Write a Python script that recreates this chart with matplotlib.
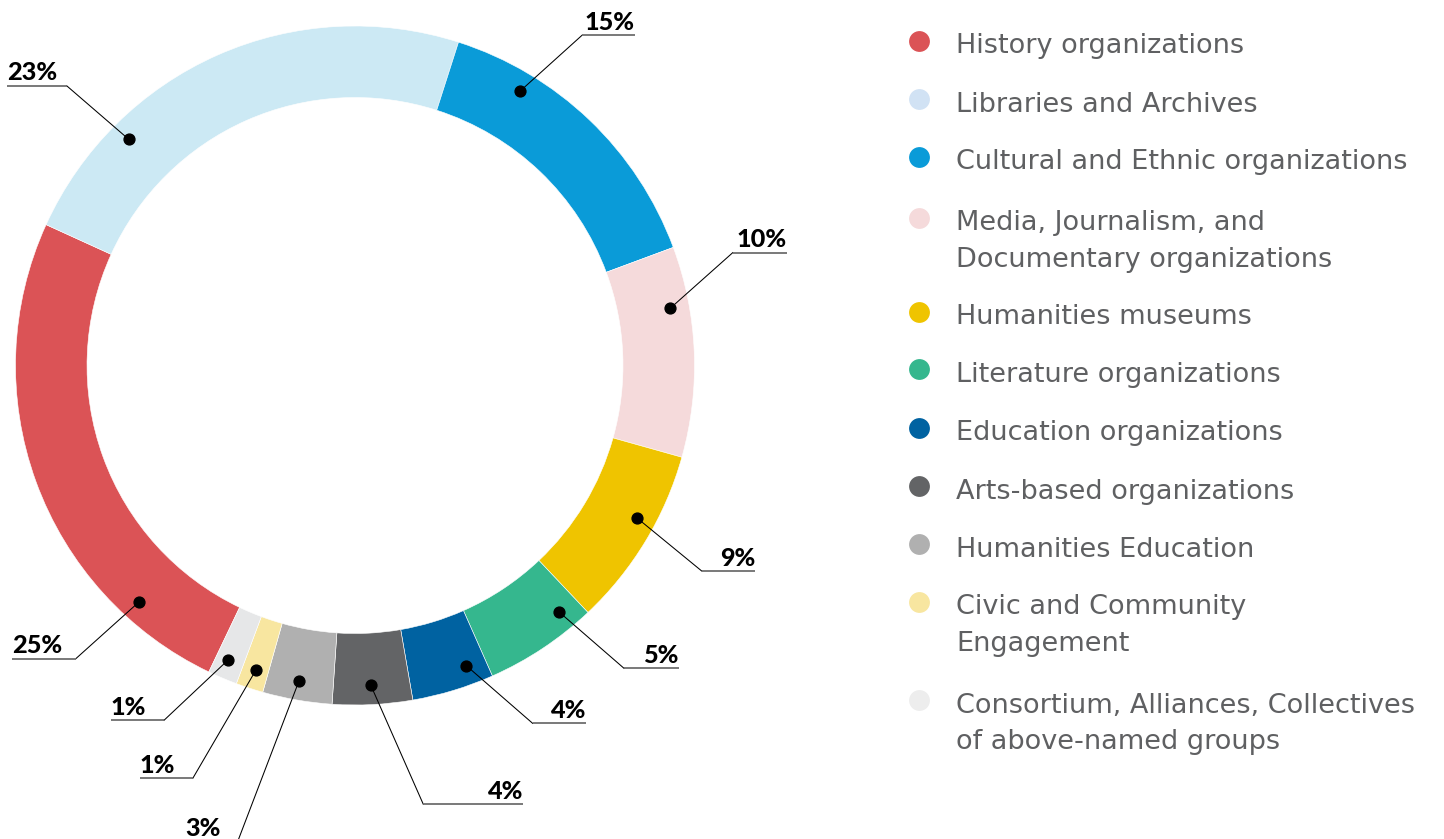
import matplotlib
matplotlib.use("Agg")
import matplotlib.pyplot as plt
import numpy as np

# ---------------- data ----------------
categories = [
    "History organizations",
    "Libraries and Archives",
    "Cultural and Ethnic organizations",
    "Media, Journalism, and\nDocumentary organizations",
    "Humanities museums",
    "Literature organizations",
    "Education organizations",
    "Arts-based organizations",
    "Humanities Education",
    "Civic and Community\nEngagement",
    "Consortium, Alliances, Collectives\nof above-named groups",
]
# arc shares read from the ring
shares = [24.7, 23.1, 14.4, 10.0, 8.6, 5.4, 3.9, 3.8, 3.3, 1.3, 1.4]
# printed percentage labels
pct_labels = ["25%", "23%", "15%", "10%", "9%", "5%", "4%", "4%", "3%", "1%", "1%"]

# ---------------- styles ----------------
ring_colors = ["#DB5356", "#CCE9F4", "#0A9BD8", "#F5DADB", "#EFC400", "#35B78E",
               "#0062A1", "#636466", "#B0B0B0", "#F8E6A0", "#E6E7E8"]
legend_colors = ["#DB5356", "#D1E2F4", "#0A9BD8", "#F5DADB", "#EFC400", "#35B78E",
                 "#0062A1", "#636466", "#B0B0B0", "#F8E6A0", "#EDEDED"]

W, H = 1444, 839
CX, CY = 355.0, 365.5      # ring centre (pixels, y down)
R_OUT, RING_W = 339.5, 71.5
START_CW = 205.5           # clockwise-from-top angle where the first wedge starts

# annotation layout (pixels, y down)
dot_frac = [0.19, 0.246, 0.256, 0.28, 0.41, 0.19, 0.25, 0.51, 0.52, 0.48, 0.56]
elbow_xy = [(75.8, 658.7), (66.6, 85.7), (582, 35.3), (732.7, 252.7), (701.7, 571),
            (624, 668.3), (532.6, 723.3), (423.3, 804.3), (237.5, 842), (192.8, 778.3),
            (164, 720.3)]
line_end_x = [12.4, 7, 635, 786.7, 755, 678.6, 585.9, 523.4, 185, 140, 111]

legend_dot_y = [40.7, 99, 156.7, 217.7, 311.7, 369.3, 427.7, 486, 544, 601.7, 700]
LEG_DOT_X, LEG_TXT_X = 918.6, 956
LEG_LINE = 36.7

fig = plt.figure(figsize=(W / 100, H / 100), dpi=100)
ax = fig.add_axes([0, 0, 1, 1])

ax.pie(shares, colors=ring_colors, startangle=START_CW - 90, counterclock=True,
       center=(CX, CY), radius=R_OUT,
       wedgeprops=dict(width=RING_W, edgecolor="white", linewidth=0.4))
ax.set_xlim(0, W)
ax.set_ylim(H, 0)
ax.set_aspect("auto")
ax.axis("off")

total = float(sum(shares))
cum = START_CW
r_dot = R_OUT - RING_W * 0.27
label_font = dict(family=["Lato", "DejaVu Sans"], weight="black", fontsize=18.2, color="black")
for i, s in enumerate(shares):
    span = 360.0 * s / total
    phi = np.deg2rad(cum + dot_frac[i] * span)
    cum += span
    dx, dy = CX + r_dot * np.sin(phi), CY - r_dot * np.cos(phi)
    ex, ey = elbow_xy[i]
    lx = line_end_x[i]
    ax.plot([dx, ex], [dy, ey], color="black", lw=0.75, clip_on=False, zorder=4)
    ax.plot([ex, lx], [ey, ey], color="#6E6E6E", lw=1.3, clip_on=False, zorder=4,
            solid_capstyle="butt")
    ax.plot(dx, dy, "o", color="black", ms=7.8, zorder=5)
    if lx < ex:
        ax.text(lx, ey - 5.5, pct_labels[i], ha="left", va="baseline", **label_font)
    else:
        ax.text(lx, ey - 5.5, pct_labels[i], ha="right", va="baseline", **label_font)

# legend
for i, cat in enumerate(categories):
    y = legend_dot_y[i]
    ax.plot(LEG_DOT_X, y, "o", color=legend_colors[i], ms=15, mec="none")
    for j, line in enumerate(cat.split("\n")):
        ax.text(LEG_TXT_X, y + 12.6 + j * LEG_LINE, line, ha="left", va="baseline",
                family=["DejaVu Sans"], fontsize=19.5, color="#5F6062")

fig.savefig("out.png", dpi=100)
